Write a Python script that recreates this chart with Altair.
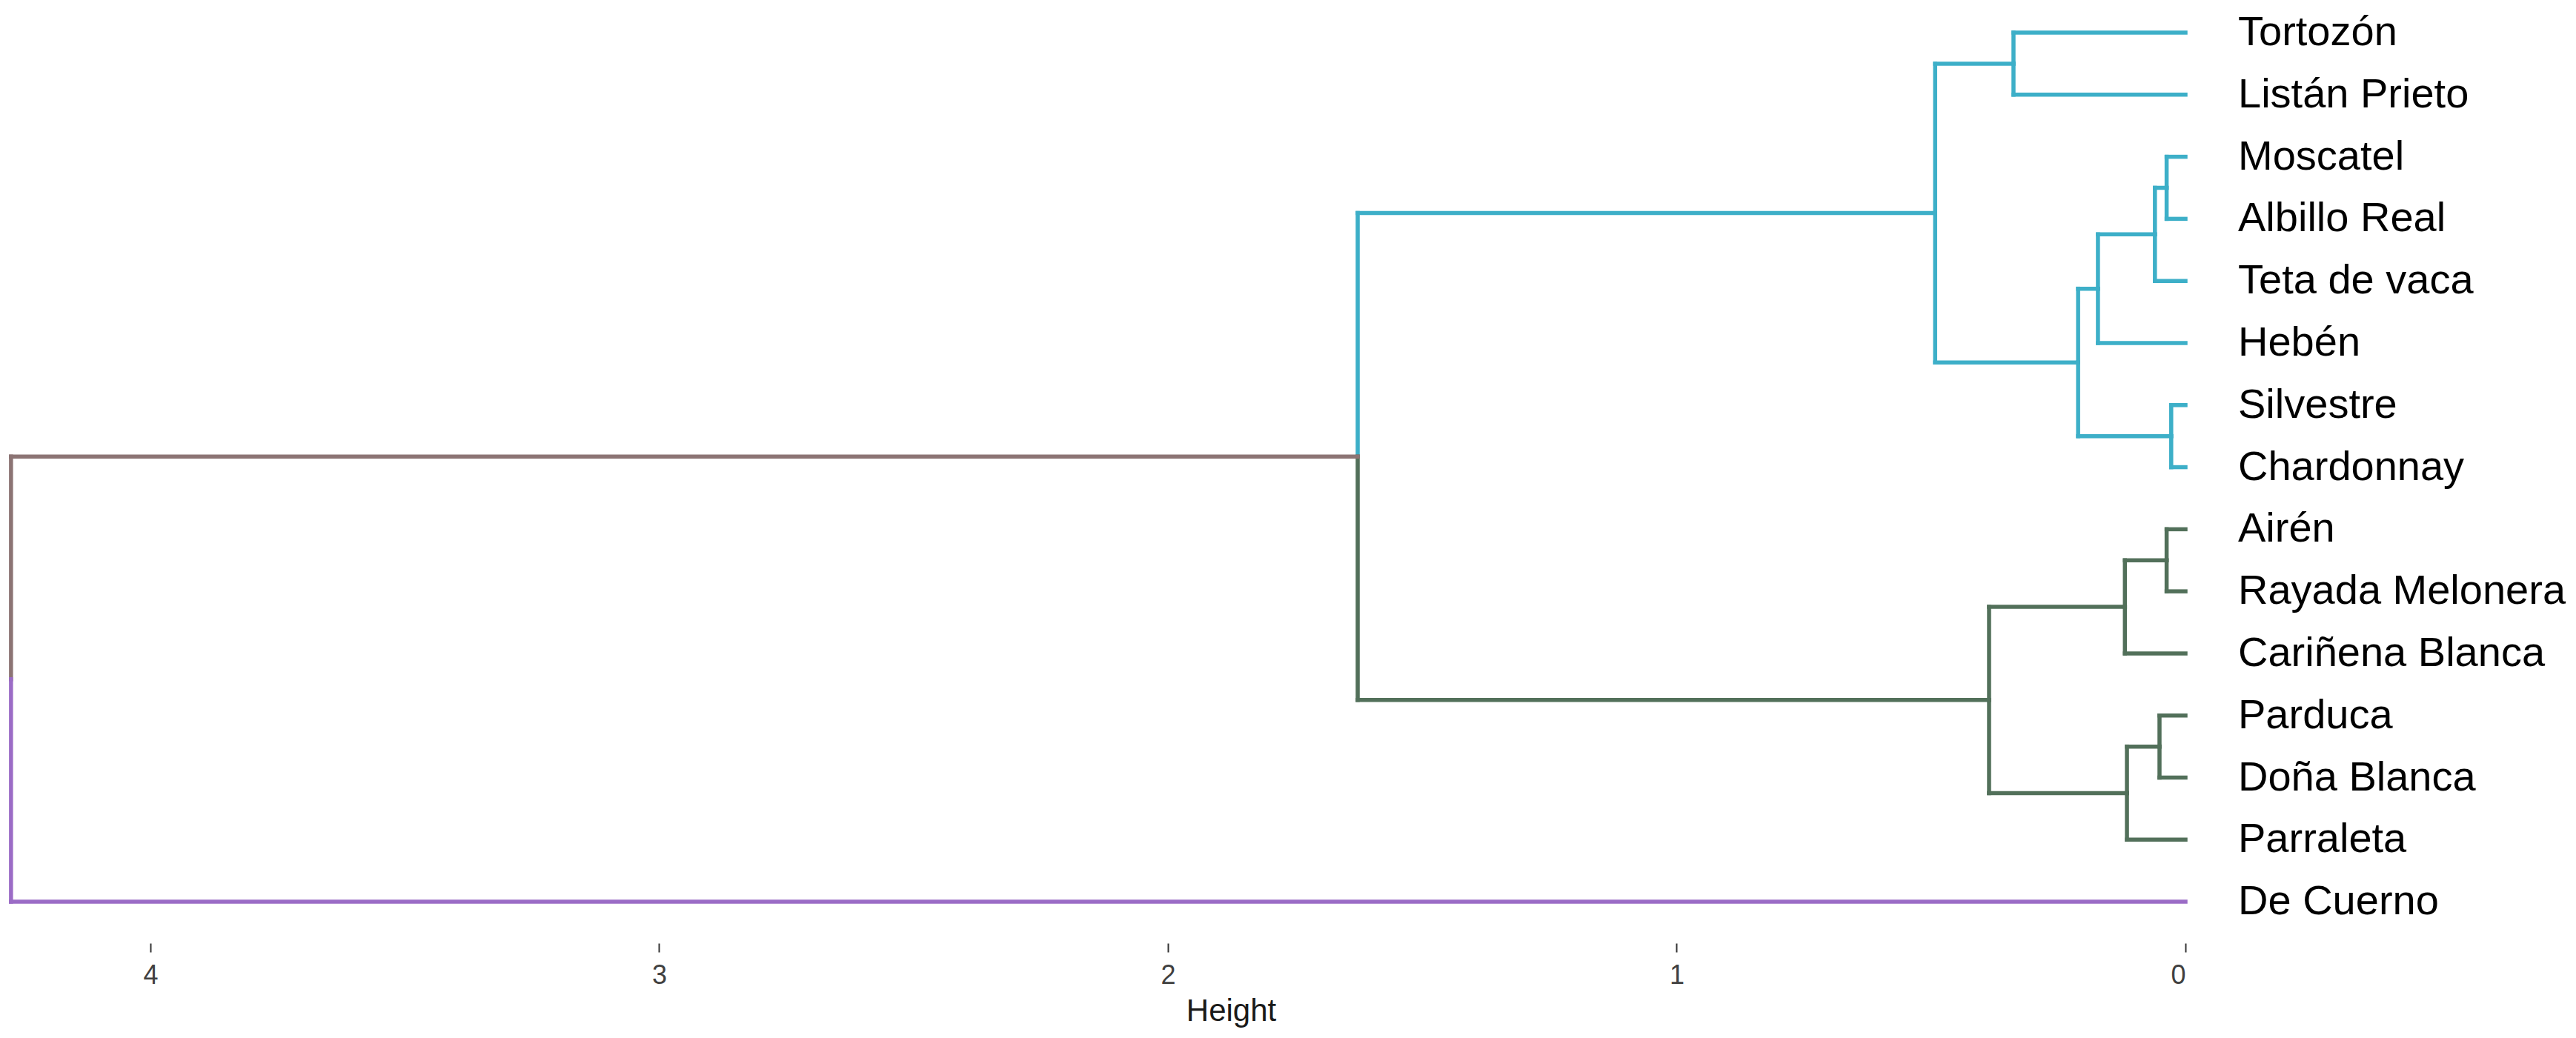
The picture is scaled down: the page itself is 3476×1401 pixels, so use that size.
import altair as alt
import pandas as pd

# Leaves in display order (top to bottom)
leaf_labels = ["Tortozón", "Listán Prieto", "Moscatel", "Albillo Real", "Teta de vaca",
               "Hebén", "Silvestre", "Chardonnay", "Airén", "Rayada Melonera",
               "Cariñena Blanca", "Parduca", "Doña Blanca", "Parraleta", "De Cuerno"]
leaf_cluster = ["c1"] * 8 + ["c2"] * 6 + ["c3"]

# R-style merge table: negative = leaf (1-based), positive = earlier merge
merge_left = [-7, -3, -9, -12, 2, 4, 3, 5, 8, -1, 7, 10, 12, 13]
merge_right = [-8, -4, -10, -13, -5, -14, -11, -6, 1, -2, 6, 9, 11, -15]
merge_height = [0.028, 0.037, 0.037, 0.051, 0.060, 0.115, 0.119, 0.172, 0.211,
                0.338, 0.386, 0.492, 1.627, 4.274]

cluster_names = ["c1", "c2", "c3", "none"]
cluster_colors = ["#3DAFC8", "#52705A", "#9B6CC6", "#8C7474"]

# derive node positions from the tree
node_pos, node_h, node_leaves = {}, {}, {}


def info(ref):
    if ref < 0:
        i = -ref - 1
        return float(i), 0.0, [i]
    return node_pos[ref], node_h[ref], node_leaves[ref]


segs = []
for k, (a, b, h) in enumerate(zip(merge_left, merge_right, merge_height), start=1):
    pa, ha, la = info(a)
    pb, hb, lb = info(b)
    pos = (pa + pb) / 2
    node_pos[k], node_h[k], node_leaves[k] = pos, h, la + lb
    for pc, hc, lc in ((pa, ha, la), (pb, hb, lb)):
        cl = {leaf_cluster[i] for i in lc}
        col = cl.pop() if len(cl) == 1 else "none"
        segs.append({"x": h, "x2": h, "y": pos, "y2": pc, "cl": col})
        segs.append({"x": h, "x2": hc, "y": pc, "y2": pc, "cl": col})

seg_df = pd.DataFrame(segs)
lab_df = pd.DataFrame({"label": leaf_labels, "pos": list(range(len(leaf_labels))), "h": [0.0] * len(leaf_labels)})

xscale = alt.Scale(domain=[4.284, 0], nice=False, zero=False)
yscale = alt.Scale(domain=[-0.3103, 14.667], nice=False, zero=False, reverse=True)

xaxis = alt.Axis(values=[0, 1, 2, 3, 4], domain=False, grid=False, ticks=True, tickSize=12,
                 tickColor="#333333", tickWidth=2, labelFontSize=36, labelColor="#404040",
                 labelFont="Liberation Sans", labelPadding=14, format="d",
                 title="Height", titleFontSize=42, titleFont="Liberation Sans",
                 titleFontWeight="normal", titleColor="#1A1A1A", titleX=1653, titleY=71,
                 titleBaseline="top", titleAlign="center")

segments = alt.Chart(seg_df).mark_rule(strokeWidth=5.5, strokeCap="square").encode(
    x=alt.X("x:Q", scale=xscale, axis=xaxis),
    x2="x2:Q",
    y=alt.Y("y:Q", scale=yscale, axis=None),
    y2="y2:Q",
    color=alt.Color("cl:N", scale=alt.Scale(domain=cluster_names, range=cluster_colors), legend=None),
)

labels = alt.Chart(lab_df).mark_text(align="left", baseline="middle", dx=71, fontSize=56,
                                     font="Liberation Sans", color="#000000").encode(
    x=alt.X("h:Q", scale=xscale),
    y=alt.Y("pos:Q", scale=yscale),
    text="label:N",
)

chart = alt.layer(segments, labels).properties(
    width=2941, height=1255,
    background="white",
    autosize=alt.AutoSizeParams(type="none"),
    padding={"left": 0, "top": 10, "right": 515, "bottom": 115},
).configure_view(stroke=None, strokeWidth=0)

chart.save("out.html", embed_options={"renderer": "svg", "actions": False})
